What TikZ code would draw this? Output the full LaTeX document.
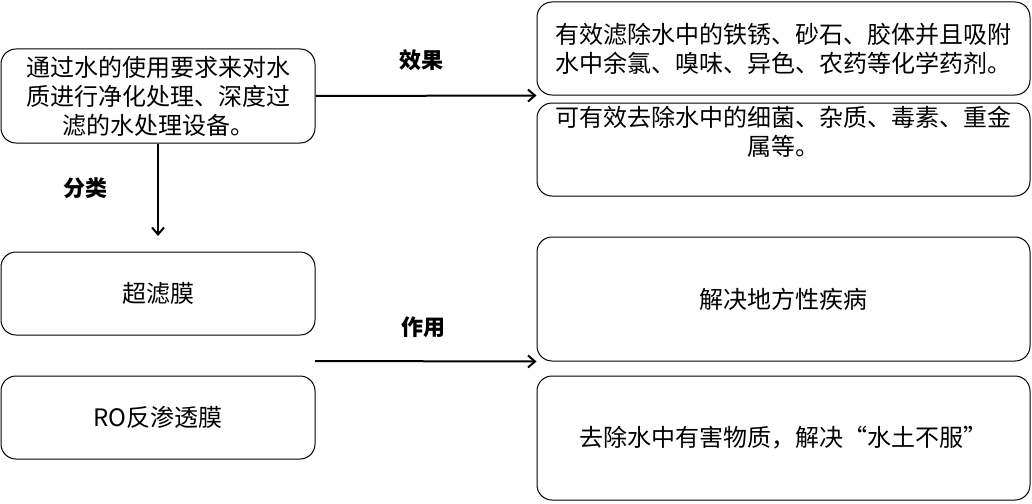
\documentclass[tikz,border=0pt]{standalone}
\usepackage{fontspec}
\newfontfamily\cjk{Noto Sans CJK SC}
\usetikzlibrary{arrows.meta,positioning}

\begin{document}
\begin{tikzpicture}[x=1pt,y=-1pt,
  every node/.style={font=\cjk\fontsize{24}{29}\selectfont},
  rbox/.style={draw,line width=1pt,rounded corners=15pt,align=center,inner sep=0pt},
  lbl/.style={font=\cjk\bfseries\fontsize{22}{26}\selectfont},
  arr/.style={-{Straight Barb[length=7pt,width=12pt]},line width=2pt}]
  \useasboundingbox (0,0) rectangle (1032,503);
  % left column
  \node[rbox,minimum width=314,minimum height=94] (m) at (158,96)
    {通过水的使用要求来对水\\质进行净化处理、深度过\\滤的水处理设备。};
  \node[rbox,minimum width=314,minimum height=83] (uf) at (158,293.5) {超滤膜};
  \node[rbox,minimum width=314,minimum height=83] (ro) at (158,417.5) {RO反渗透膜};
  % right column
  \node[rbox,minimum width=493,minimum height=93] (r1) at (783.5,48.5)
    {有效滤除水中的铁锈、砂石、胶体并且吸附\\水中余氯、嗅味、异色、农药等化学药剂。};
  \node[rbox,minimum width=493,minimum height=93] (r2) at (783.5,149.5)
    {可有效去除水中的细菌、杂质、毒素、重金\\属等。\\\strut};
  \node[rbox,minimum width=493,minimum height=124] (r3) at (783.5,299) {解决地方性疾病};
  \node[rbox,minimum width=493,minimum height=124] (r4) at (783.5,438)
    {去除水中有害物质，解决“水土不服”};
  % labels
  \node[lbl] (xg) at (421,60) {效果};
  \node[lbl] (fl) at (85,188) {分类};
  \node[lbl] (zy) at (423,327) {作用};
  % connectors
  \coordinate (cls) at (158,236);
  \coordinate (use) at (315,361);
  \draw[arr] (m.east) -- (r1.south west);
  \draw[arr] (m.south) -- (cls);
  \draw[arr] (use) -- (r3.south west);
\end{tikzpicture}
\end{document}
